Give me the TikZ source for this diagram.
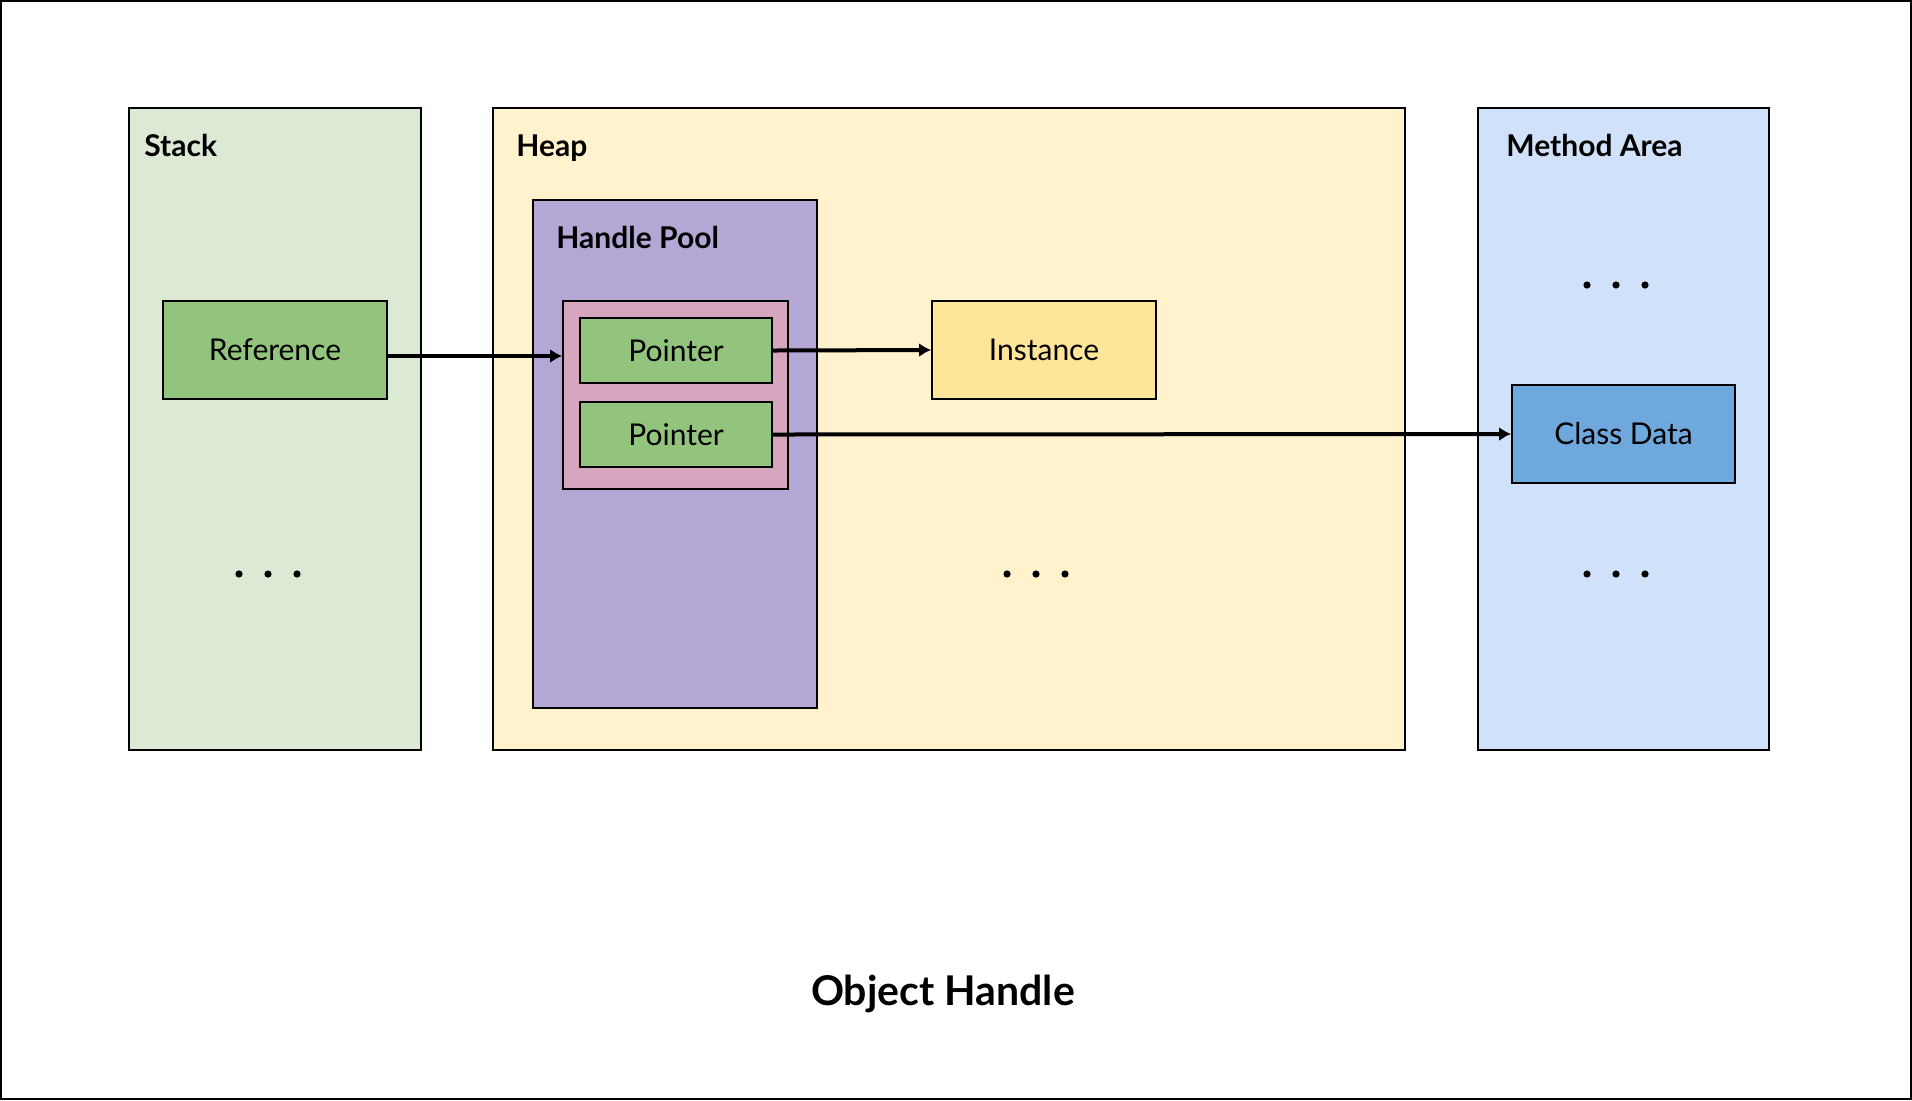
\documentclass[tikz,border=0pt]{standalone}
\usepackage{fontspec}
\setmainfont{Lato}
\usetikzlibrary{positioning}
\usetikzlibrary{arrows.meta}
\definecolor{stackbg}{HTML}{DCE9D5}
\definecolor{heapbg}{HTML}{FFF2CC}
\definecolor{methodbg}{HTML}{D0E2F9}
\definecolor{poolbg}{HTML}{B4A7D6}
\definecolor{pairbg}{HTML}{D5A6BD}
\definecolor{green}{HTML}{93C47D}
\definecolor{yellow}{HTML}{FFE599}
\definecolor{blue}{HTML}{6FA8DC}

\begin{document}
\begin{tikzpicture}[x=0.5pt, y=-0.5pt, >={Latex[length=6pt,width=7pt]}]
    \tikzset{
        area/.style={draw, line width=0.9pt, inner sep=0pt},
        box/.style={draw, line width=0.9pt, inner sep=0pt, font=\fontsize{15}{18}\selectfont},
        title/.style={anchor=base west, inner sep=0pt, font=\bfseries\fontsize{15}{18}\selectfont},
        link/.style={->, line width=2pt}
    }
    \useasboundingbox (0,0) rectangle (1912,1100);
    \draw[line width=1pt] (1,1) rectangle (1911,1099);

    % Memory areas
    \node[area, fill=stackbg, minimum width=146pt, minimum height=321pt] (stack) at (275,429) {};
    \node[area, fill=heapbg, minimum width=456pt, minimum height=321pt] (heap) at (949,429) {};
    \node[area, fill=methodbg, minimum width=145.5pt, minimum height=321pt] (method) at (1623.5,429) {};
    \node[area, fill=poolbg, minimum width=142pt, minimum height=254pt] (pool) at (675,454) {};
    \node[area, fill=pairbg, minimum width=112.5pt, minimum height=94pt] (pair) at (675.5,395) {};

    \node[title] (stacklbl) at (144,156) {Stack};
    \node[title] (heaplbl) at (516,156) {Heap};
    \node[title] (methodlbl) at (1506,156) {Method Area};
    \node[title] (poollbl) at (556,248) {Handle Pool};

    % Boxes
    \node[box, fill=green, minimum width=112pt, minimum height=49pt] (ref) at (275,350) {Reference};
    \node[box, fill=green, minimum width=96pt, minimum height=32.5pt] (ptr1) at (676,350.5) {Pointer};
    \node[box, fill=green, minimum width=96pt, minimum height=32.5pt] (ptr2) at (676,434.5) {Pointer};
    \node[box, fill=yellow, minimum width=112pt, minimum height=49pt] (inst) at (1044,350) {Instance};
    \node[box, fill=blue, minimum width=111.5pt, minimum height=49pt] (cls) at (1623.5,434) {Class Data};

    \draw[link] ([yshift=-3pt]ref.east) -- ([yshift=-3pt]ref.east -| pair.west);
    \draw[link] (ptr1.east) -- (inst.west);
    \draw[link] (ptr2.east) -- (cls.west);

    % Ellipses
    \foreach \x/\y in {268/574, 1036/574, 1616/285, 1616/574} {
        \foreach \d in {-29,0,29}
            \fill (\x+\d,\y) circle (1.8pt);
    }

    \node[font=\bfseries\fontsize{20.5}{24}\selectfont] (caption) at (943,994) {Object Handle};
\end{tikzpicture}
\end{document}
